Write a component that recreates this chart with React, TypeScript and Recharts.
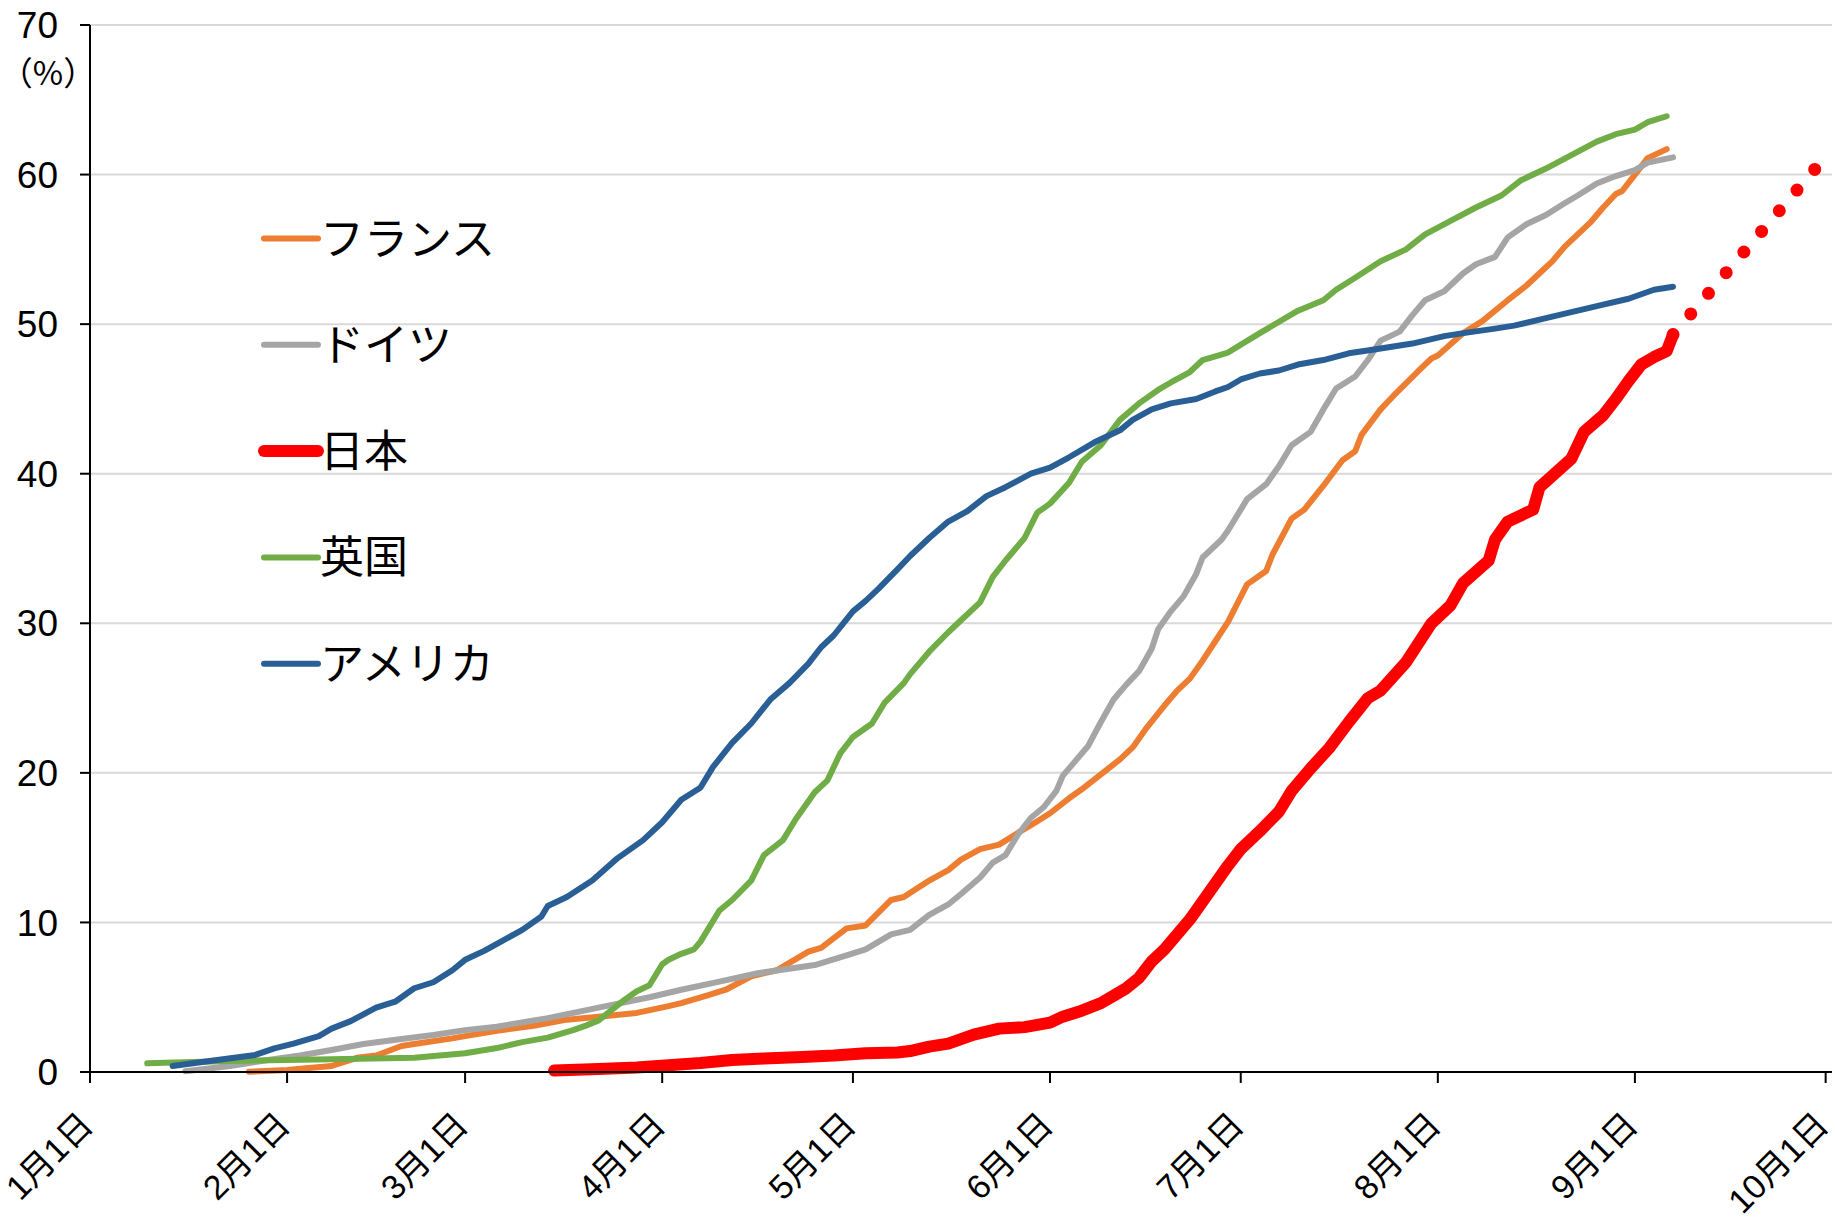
import React from 'react';
import { LineChart, Line, XAxis, YAxis, CartesianGrid, Legend } from 'recharts';

// ---- axis categories / tick labels ----
const monthTicks = [0, 31, 59, 90, 120, 151, 181, 212, 243, 273];
const monthLabels = ['1月1日', '2月1日', '3月1日', '4月1日', '5月1日', '6月1日', '7月1日', '8月1日', '9月1日', '10月1日'];
const yTicks = [0, 10, 20, 30, 40, 50, 60, 70];
const yUnit = '（%）';
const legendOrder = ['フランス', 'ドイツ', '日本', '英国', 'アメリカ'];

// ---- series (day of year since Jan 1, % fully vaccinated) ----
const franceDays = [25, 31, 34, 38, 42, 45, 49, 51, 57, 59, 64, 70, 75, 80, 86, 91, 93, 97, 100, 104, 108, 113, 115, 119, 122, 126, 128, 132, 135, 137, 140, 143, 146, 148, 151, 154, 156, 159, 162, 164, 166, 169, 171, 173, 175, 177, 179, 182, 185, 186, 189, 191, 194, 197, 199, 200, 203, 205, 209, 211, 212, 216, 219, 223, 226, 228, 230, 232, 234, 236, 238, 240, 241, 243, 245, 247, 248];
const franceValues = [0.02, 0.13, 0.25, 0.4, 0.95, 1.1, 1.74, 1.87, 2.25, 2.4, 2.76, 3.1, 3.5, 3.7, 3.95, 4.4, 4.6, 5.1, 5.5, 6.4, 6.8, 8.05, 8.3, 9.6, 9.8, 11.5, 11.7, 12.8, 13.5, 14.2, 14.9, 15.2, 16.0, 16.5, 17.3, 18.3, 18.9, 19.9, 20.9, 21.7, 22.9, 24.5, 25.5, 26.3, 27.5, 28.8, 30.1, 32.6, 33.5, 34.6, 37.0, 37.6, 39.2, 40.9, 41.5, 42.6, 44.3, 45.2, 46.9, 47.7, 47.9, 49.4, 50.2, 51.6, 52.6, 53.4, 54.2, 55.2, 56.0, 56.8, 57.8, 58.7, 58.9, 60.0, 61.1, 61.5, 61.7];

const germanyDays = [15, 22, 28, 33, 38, 43, 49, 54, 59, 64, 72, 80, 88, 93, 99, 105, 114, 119, 122, 126, 129, 132, 135, 137, 140, 142, 144, 146, 148, 150, 152, 153, 155, 157, 159, 161, 163, 165, 167, 168, 170, 172, 174, 175, 178, 179, 182, 185, 187, 189, 192, 194, 196, 199, 201, 203, 206, 208, 210, 213, 216, 218, 221, 223, 226, 229, 232, 234, 237, 240, 243, 245, 249];
const germanyValues = [0.05, 0.4, 0.8, 1.1, 1.47, 1.87, 2.2, 2.47, 2.8, 3.03, 3.6, 4.3, 5.0, 5.5, 6.04, 6.6, 7.15, 7.8, 8.2, 9.2, 9.5, 10.5, 11.2, 11.9, 13.0, 14.0, 14.5, 15.9, 17.0, 17.7, 18.8, 19.8, 20.8, 21.8, 23.4, 24.9, 25.9, 26.8, 28.3, 29.6, 30.8, 31.8, 33.3, 34.4, 35.6, 36.2, 38.3, 39.3, 40.5, 41.9, 42.8, 44.3, 45.7, 46.5, 47.6, 48.9, 49.5, 50.6, 51.6, 52.2, 53.4, 54.0, 54.5, 55.8, 56.7, 57.3, 58.1, 58.6, 59.4, 59.9, 60.3, 60.8, 61.15];

const japanDays = [73, 80, 86, 91, 96, 101, 106, 112, 117, 122, 127, 129, 132, 135, 137, 139, 141, 143, 147, 151, 153, 156, 159, 161, 163, 165, 167, 169, 171, 173, 175, 177, 179, 181, 184, 187, 189, 192, 195, 198, 201, 203, 207, 211, 214, 216, 220, 221, 223, 227, 228, 233, 235, 238, 240, 242, 244, 246, 248, 249];
const japanValues = [0.1, 0.2, 0.3, 0.45, 0.6, 0.8, 0.9, 1.0, 1.1, 1.25, 1.3, 1.4, 1.7, 1.9, 2.2, 2.5, 2.7, 2.9, 3.0, 3.3, 3.7, 4.1, 4.6, 5.1, 5.6, 6.3, 7.4, 8.2, 9.2, 10.2, 11.4, 12.6, 13.8, 14.9, 16.1, 17.4, 18.8, 20.3, 21.7, 23.4, 25.0, 25.5, 27.4, 30.0, 31.2, 32.7, 34.2, 35.6, 36.8, 37.6, 39.1, 41.0, 42.8, 43.9, 45.0, 46.2, 47.3, 47.8, 48.2, 49.3];

const japanForecastDays = [249, 272];
const japanForecastValues = [49.3, 60.7];

const ukDays = [9, 22, 38, 51, 59, 64, 68, 72, 76, 78, 80, 84, 86, 88, 90, 91, 93, 95, 96, 99, 101, 104, 106, 109, 111, 114, 116, 118, 120, 123, 125, 128, 129, 132, 135, 137, 140, 142, 144, 147, 149, 151, 154, 156, 159, 162, 165, 168, 170, 173, 175, 179, 184, 190, 194, 196, 199, 203, 207, 210, 214, 218, 222, 225, 229, 233, 237, 240, 243, 245, 248];
const ukValues = [0.58, 0.74, 0.85, 0.96, 1.25, 1.6, 2.0, 2.3, 2.8, 3.1, 3.45, 4.8, 5.4, 5.8, 7.2, 7.5, 7.9, 8.2, 8.7, 10.8, 11.5, 12.8, 14.5, 15.5, 16.9, 18.7, 19.5, 21.3, 22.4, 23.3, 24.7, 26.0, 26.6, 28.1, 29.4, 30.2, 31.4, 33.1, 34.2, 35.7, 37.4, 38.0, 39.4, 40.8, 41.9, 43.6, 44.7, 45.6, 46.1, 46.8, 47.6, 48.1, 49.4, 50.9, 51.6, 52.3, 53.1, 54.2, 55.0, 56.0, 56.9, 57.8, 58.6, 59.6, 60.4, 61.3, 62.2, 62.7, 63.0, 63.5, 63.9];

const usaDays = [13, 20, 26, 29, 32, 36, 38, 41, 45, 48, 51, 54, 57, 59, 62, 65, 68, 71, 72, 75, 79, 83, 87, 90, 93, 96, 98, 101, 104, 107, 110, 113, 115, 117, 120, 122, 124, 127, 129, 132, 135, 138, 141, 144, 148, 151, 154, 158, 162, 164, 167, 170, 174, 177, 179, 181, 184, 187, 190, 194, 198, 202, 208, 213, 216, 221, 224, 229, 234, 238, 242, 246, 249];
const usaValues = [0.4, 0.8, 1.14, 1.58, 1.9, 2.4, 2.9, 3.4, 4.3, 4.7, 5.6, 6.0, 6.8, 7.5, 8.1, 8.8, 9.5, 10.4, 11.1, 11.7, 12.8, 14.3, 15.5, 16.7, 18.2, 19.0, 20.4, 22.0, 23.3, 24.9, 26.0, 27.3, 28.4, 29.2, 30.8, 31.5, 32.3, 33.6, 34.5, 35.7, 36.8, 37.5, 38.5, 39.1, 40.0, 40.4, 41.1, 42.1, 42.9, 43.6, 44.3, 44.7, 45.0, 45.5, 45.8, 46.3, 46.7, 46.9, 47.3, 47.6, 48.05, 48.3, 48.7, 49.2, 49.4, 49.7, 49.9, 50.4, 50.9, 51.3, 51.7, 52.3, 52.5];

const toRows = (days: number[], values: number[]) => {
  const n = Math.min(days.length, values.length);
  const rows: { day: number; v: number }[] = [];
  for (let i = 0; i < n; i++) rows.push({ day: days[i], v: values[i] });
  return rows;
};

const franceRows = toRows(franceDays, franceValues);
const germanyRows = toRows(germanyDays, germanyValues);
const japanRows = toRows(japanDays, japanValues);
const japanForecastRows = toRows(japanForecastDays, japanForecastValues);
const ukRows = toRows(ukDays, ukValues);
const usaRows = toRows(usaDays, usaValues);

const FONT = "'Liberation Sans', Arial, 'Noto Sans CJK JP', sans-serif";
const CJK_FONT = "'Noto Sans CJK JP', 'Noto Sans', sans-serif";

const XTick = (props: any) => {
  const { x, y, payload } = props;
  const idx = monthTicks.indexOf(payload && payload.value);
  const label = idx >= 0 ? monthLabels[idx] : '';
  const ax = x + 5;
  const ay = y + 44;
  return (
    <text
      x={ax}
      y={ay}
      transform={`rotate(-45 ${ax} ${ay})`}
      textAnchor="end"
      fontSize={34}
      fontFamily={FONT}
      fill="#000"
    >
      {label}
    </text>
  );
};

const UnitLabel = (props: any) => {
  const vb = props.viewBox || { x: 0, y: 25, width: 90, height: 1047 };
  return (
    <text
      x={vb.x + 48}
      y={vb.y + 60}
      textAnchor="middle"
      fontSize={33}
      fontFamily={CJK_FONT}
      fill="#000"
    >
      {yUnit}
    </text>
  );
};

const LegendContent = (props: any) => {
  const raw = (props.payload || []).filter((p: any) => p.type !== 'none');
  const items = legendOrder
    .map((name) => raw.find((p: any) => p.value === name))
    .filter((p: any) => !!p);
  return (
    <svg width={330} height={540} style={{ overflow: 'visible', display: 'block' }}>
      {items.map((item: any, i: number) => {
        const cy = 53.5 + i * 106.3;
        const sw = item.payload && item.payload.strokeWidth >= 10 ? 12 : 6;
        return (
          <g key={i}>
            <line x1={14} x2={68} y1={cy} y2={cy} stroke={item.color} strokeWidth={sw} strokeLinecap="round" />
            <text x={70} y={cy + 16} fontSize={44} fontFamily={CJK_FONT} fill="#000">
              {item.value}
            </text>
          </g>
        );
      })}
    </svg>
  );
};

const LINE_W = 6;

export default function App() {
  return (
    <div style={{ position: 'absolute', left: 0, top: 0, width: 1835, height: 1218, background: '#fff' }}>
      <LineChart width={1835} height={1218} margin={{ top: 25, right: 3, bottom: 0, left: 0 }}>
        <CartesianGrid horizontal vertical={false} stroke="#d9d9d9" strokeWidth={2} />
        <XAxis
          type="number"
          dataKey="day"
          domain={[0, 274]}
          ticks={monthTicks}
          interval={0}
          height={146}
          tickSize={11}
          tickMargin={0}
          tick={<XTick />}
          axisLine={{ stroke: '#000', strokeWidth: 2 }}
          tickLine={{ stroke: '#000', strokeWidth: 2 }}
        />
        <YAxis
          type="number"
          domain={[0, 70]}
          ticks={yTicks}
          interval={0}
          width={90}
          tickSize={10}
          tickMargin={22}
          tick={{ fontSize: 37, fill: '#000', fontFamily: FONT }}
          axisLine={{ stroke: '#000', strokeWidth: 2 }}
          tickLine={{ stroke: '#000', strokeWidth: 2 }}
          label={<UnitLabel />}
        />
        <Legend
          layout="vertical"
          align="center"
          verticalAlign="middle"
          wrapperStyle={{ left: 250, top: 185, width: 330, height: 540 }}
          content={<LegendContent />}
        />
        <Line data={franceRows} dataKey="v" name="フランス" type="linear" stroke="#ED7D31" strokeWidth={LINE_W} strokeLinecap="round" strokeLinejoin="round" dot={false} activeDot={false} isAnimationActive={false} />
        <Line data={germanyRows} dataKey="v" name="ドイツ" type="linear" stroke="#A5A5A5" strokeWidth={LINE_W} strokeLinecap="round" strokeLinejoin="round" dot={false} activeDot={false} isAnimationActive={false} />
        <Line data={japanRows} dataKey="v" name="日本" type="linear" stroke="#FF0000" strokeWidth={12} strokeLinecap="round" strokeLinejoin="round" dot={false} activeDot={false} isAnimationActive={false} />
        <Line data={ukRows} dataKey="v" name="英国" type="linear" stroke="#70AD47" strokeWidth={LINE_W} strokeLinecap="round" strokeLinejoin="round" dot={false} activeDot={false} isAnimationActive={false} />
        <Line data={usaRows} dataKey="v" name="アメリカ" type="linear" stroke="#2A5F96" strokeWidth={LINE_W} strokeLinecap="round" strokeLinejoin="round" dot={false} activeDot={false} isAnimationActive={false} />
        <Line data={japanForecastRows} dataKey="v" name="日本（見通し）" legendType="none" type="linear" stroke="#FF0000" strokeWidth={13} strokeDasharray="0 27.2" strokeLinecap="round" dot={false} activeDot={false} isAnimationActive={false} />
      </LineChart>
    </div>
  );
}
